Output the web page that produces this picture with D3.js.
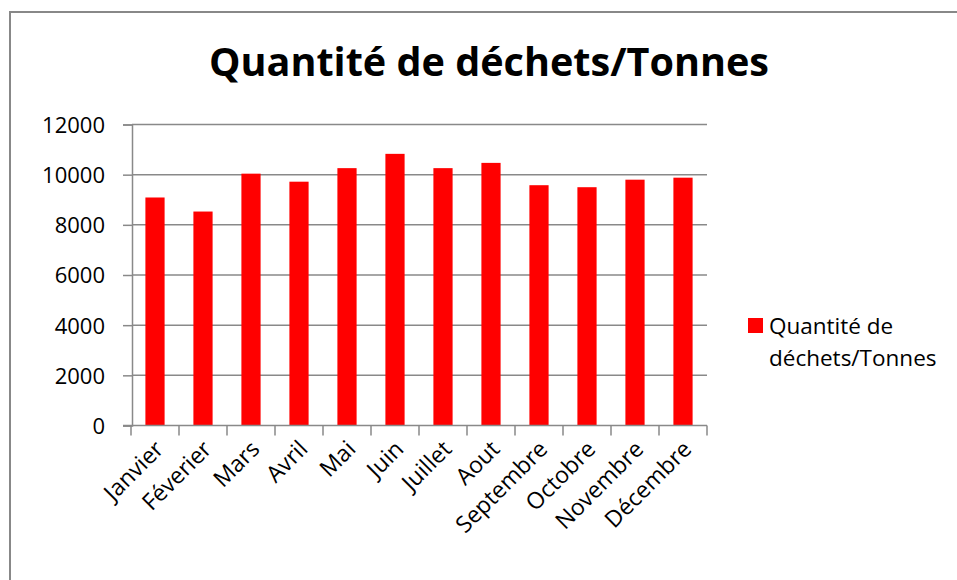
<!DOCTYPE html>
<html>
<head>
<meta charset="utf-8">
<script src="https://cdn.jsdelivr.net/npm/d3@7"></script>
<style>
  body { margin: 0; background: #fff; }
  svg { display: block; }
</style>
</head>
<body>
<script>
const months = ["Janvier", "Féverier", "Mars", "Avril", "Mai", "Juin",
  "Juillet", "Aout", "Septembre", "Octobre", "Novembre", "Décembre"];
const tonnes = [9090, 8530, 10040, 9720, 10260, 10830,
  10260, 10470, 9580, 9500, 9800, 9880];
const yTicks = [0, 2000, 4000, 6000, 8000, 10000, 12000];
const seriesName = "Quantité de déchets/Tonnes";
const legendLines = ["Quantité de", "déchets/Tonnes"];

const width = 957;
const height = 580;
const font = "'Open Sans', 'DejaVu Sans', sans-serif";
const gridColor = "#898989";

const svg = d3.select("body").append("svg")
  .attr("width", width)
  .attr("height", height);

// chart area border (only left/top visible in the crop)
svg.append("rect")
  .attr("x", 10).attr("y", 12)
  .attr("width", 1000).attr("height", 1000)
  .attr("fill", "none")
  .attr("stroke", "#888")
  .attr("stroke-width", 2);

// title
svg.append("text")
  .attr("x", 489).attr("y", 76)
  .attr("text-anchor", "middle")
  .attr("font-family", font)
  .attr("font-weight", "bold")
  .attr("font-size", 40)
  .attr("textLength", 560)
  .attr("lengthAdjust", "spacingAndGlyphs")
  .attr("fill", "#000")
  .text(seriesName);

const x = d3.scaleBand().domain(months).range([131, 707]).paddingInner(0.6).paddingOuter(0.3);
const y = d3.scaleLinear().domain([0, 12000]).range([425.5, 124.5]);

// gridlines
svg.append("g")
  .selectAll("line")
  .data(yTicks.slice(1))
  .join("line")
  .attr("x1", 132).attr("x2", 707)
  .attr("y1", d => y(d)).attr("y2", d => y(d))
  .attr("stroke", gridColor)
  .attr("stroke-width", 1.5);

// bars
svg.append("g")
  .selectAll("rect")
  .data(months)
  .join("rect")
  .attr("x", (d) => x(d))
  .attr("width", x.bandwidth())
  .attr("y", (d, i) => y(tonnes[i]))
  .attr("height", (d, i) => y(0) - y(tonnes[i]))
  .attr("fill", "#ff0000");

// y axis
const yAxis = svg.append("g")
  .attr("transform", "translate(132,0)")
  .call(d3.axisLeft(y).tickValues(yTicks).tickSize(9).tickPadding(18).tickFormat(d3.format("d")));
yAxis.select(".domain").attr("stroke", gridColor).attr("stroke-width", 1.5);
yAxis.selectAll(".tick line").attr("stroke", gridColor).attr("stroke-width", 1.5);
yAxis.selectAll("text")
  .attr("font-family", font)
  .attr("font-size", 22)
  .attr("fill", "#000")
  .attr("dy", "0.36em");

// x axis: ticks at category boundaries
const xAxisG = svg.append("g");
xAxisG.append("line")
  .attr("x1", 123).attr("x2", 707)
  .attr("y1", y(0)).attr("y2", y(0))
  .attr("stroke", gridColor).attr("stroke-width", 1.5);
const bounds = months.map(m => x(m) - x.step() * x.paddingInner() / 2)
  .concat([707]);
xAxisG.selectAll("line.tk")
  .data(bounds)
  .join("line")
  .attr("class", "tk")
  .attr("x1", d => d).attr("x2", d => d)
  .attr("y1", y(0)).attr("y2", y(0) + 10)
  .attr("stroke", gridColor).attr("stroke-width", 1.5);

xAxisG.selectAll("text")
  .data(months)
  .join("text")
  .attr("transform", d => `translate(${x(d) + x.bandwidth() / 2 + 10},${y(0) + 25}) rotate(-45)`)
  .attr("text-anchor", "end")
  .attr("font-family", font)
  .attr("font-size", 23)
  .attr("fill", "#000")
  .text(d => d);

// legend
const legend = svg.append("g");
legend.append("rect")
  .attr("x", 748).attr("y", 318)
  .attr("width", 15).attr("height", 15)
  .attr("fill", "#ff0000");
legend.selectAll("text")
  .data(legendLines)
  .join("text")
  .attr("x", 769)
  .attr("y", (d, i) => 334 + i * 32)
  .attr("font-family", font)
  .attr("font-size", 22.5)
  .attr("fill", "#000")
  .text(d => d);
</script>
</body>
</html>
